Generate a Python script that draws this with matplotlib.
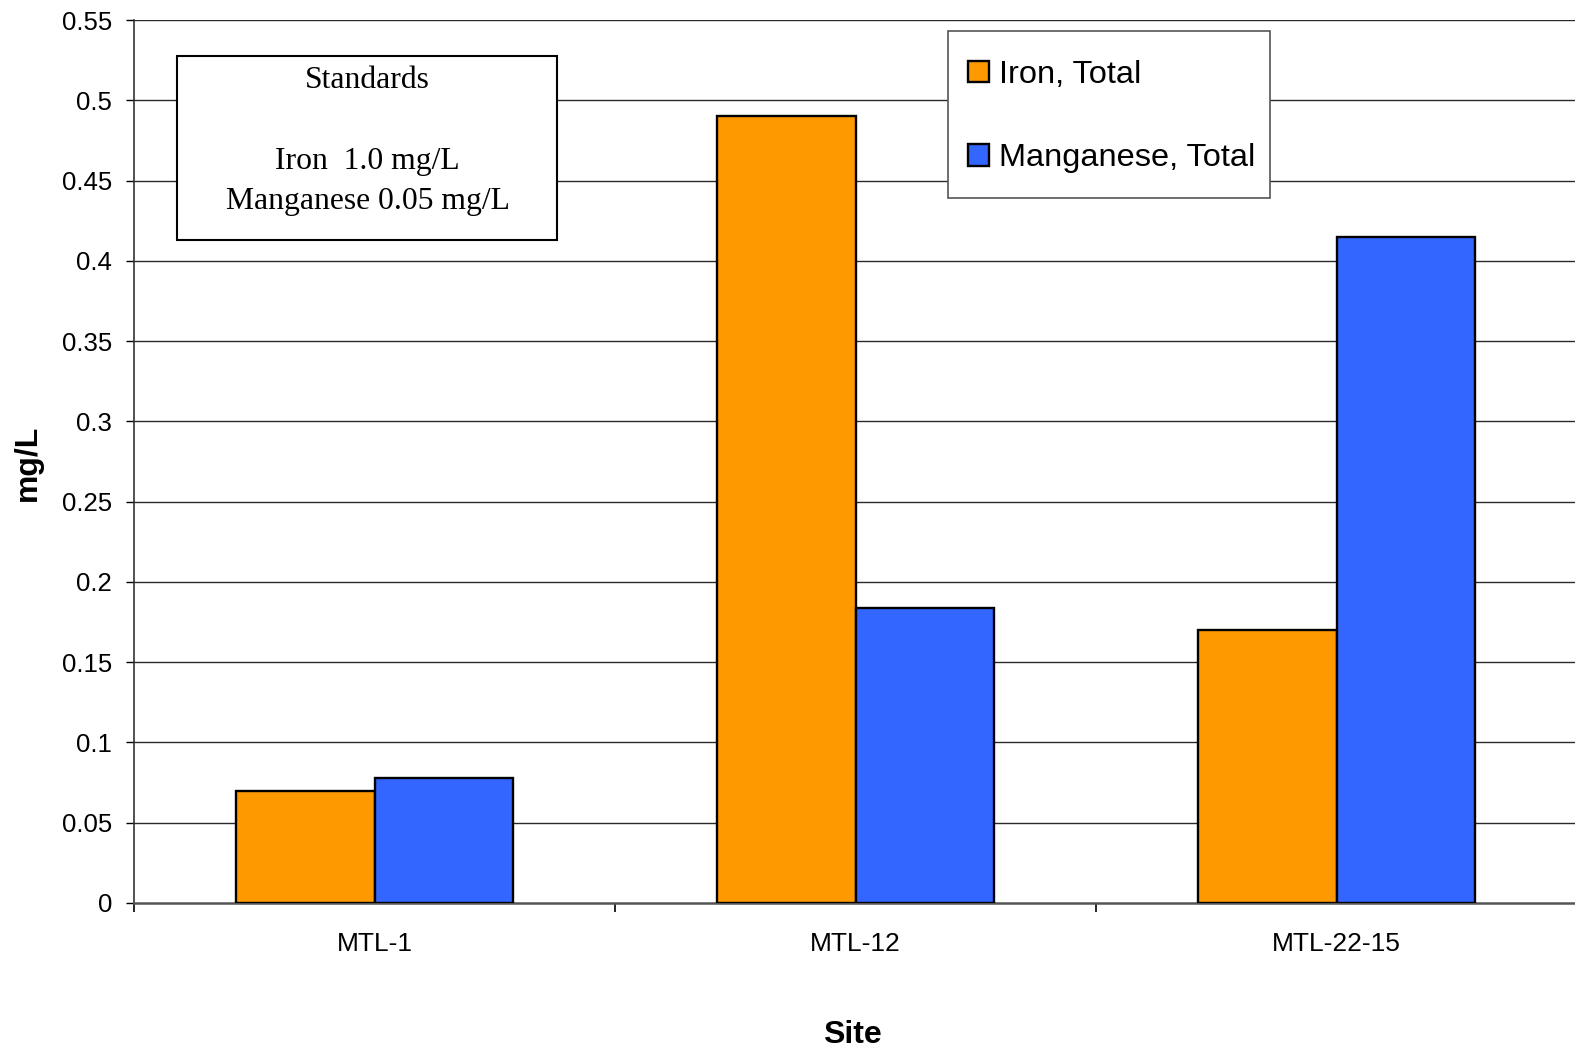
import numpy as np
import matplotlib
matplotlib.use("Agg")
import matplotlib.pyplot as plt
from matplotlib.patches import Rectangle

# Data per site (mg/L)
sites = ["MTL-1", "MTL-12", "MTL-22-15"]
iron_total = [0.07, 0.49, 0.17]
manganese_total = [0.078, 0.184, 0.415]
yticks = [0, 0.05, 0.1, 0.15, 0.2, 0.25, 0.3, 0.35, 0.4, 0.45, 0.5, 0.55]
ytick_labels = ["0", "0.05", "0.1", "0.15", "0.2", "0.25", "0.3", "0.35", "0.4", "0.45", "0.5", "0.55"]

plt.rcParams["font.family"] = ["Liberation Sans", "DejaVu Sans"]

W, H = 1575, 1054
fig = plt.figure(figsize=(W / 100, H / 100), dpi=100)
ax = fig.add_axes([0.0853, 0.1433, 0.916, 0.8377])

x = np.arange(len(sites))
w = 0.288
b1 = ax.bar(x - w / 2, iron_total, w, color="#FF9900", edgecolor="black",
            linewidth=1.7, label="Iron, Total", zorder=3)
b2 = ax.bar(x + w / 2, manganese_total, w, color="#3366FF", edgecolor="black",
            linewidth=1.7, label="Manganese, Total", zorder=3)

ax.set_xlim(-0.5, len(sites) - 0.5)
ax.set_ylim(0, 0.55)

# horizontal gridlines
for yv in yticks[1:]:
    ax.axhline(yv, color="#2a2a2a", linewidth=1.0, zorder=1)

ax.set_yticks(yticks)
ax.set_yticklabels(ytick_labels, fontsize=18.5)
ax.tick_params(axis="y", direction="out", length=6, width=1, pad=10)

# site labels at centres, ticks at category boundaries
ax.set_xticks(x)
ax.set_xticklabels(sites, fontsize=19)
ax.tick_params(axis="x", which="major", length=0, pad=21)
ax.set_xticks(np.arange(len(sites) + 1) - 0.5, minor=True)
ax.tick_params(axis="x", which="minor", direction="out", length=6.5, width=1.2)

for s in ["top", "right"]:
    ax.spines[s].set_visible(False)
ax.spines["left"].set_color("#333333")
ax.spines["left"].set_linewidth(1.2)
ax.spines["bottom"].set_color("#555555")
ax.spines["bottom"].set_linewidth(1.8)

fig.text(28 / W, 0.5605, "mg/L", rotation=90, fontsize=23, fontweight="bold",
         ha="center", va="center")
fig.text(0.5413, 1 - 1034.6 / H, "Site", fontsize=23, fontweight="bold",
         ha="center", va="center")

# standards box
box = Rectangle((176.7 / W, 1 - 240 / H), (556.7 - 176.7) / W, (240 - 55.7) / H,
                transform=fig.transFigure, facecolor="white",
                edgecolor="black", linewidth=1.5, zorder=5, clip_on=False)
ax.add_patch(box)
serif = ["Liberation Serif", "DejaVu Serif"]
cx = 367.6 / W
for txt, py in [("Standards", 80), ("Iron  1.0 mg/L", 161.5),
                ("Manganese 0.05 mg/L", 201.5)]:
    fig.text(cx, 1 - py / H, txt, family=serif, fontsize=22.8,
             ha="center", va="center", zorder=6)

# legend box
lbox = Rectangle((948.3 / W, 1 - 198.3 / H), (1270 - 948.3) / W, (198.3 - 30.7) / H,
                 transform=fig.transFigure, facecolor="white",
                 edgecolor="#555555", linewidth=1.2, zorder=5, clip_on=False)
ax.add_patch(lbox)
leg = ax.legend(handles=[b1, b2], loc="center left",
                bbox_to_anchor=(968.3 / W, 1 - 116.7 / H),
                bbox_transform=fig.transFigure, fontsize=23.4, frameon=False,
                handlelength=0.65, handleheight=0.65,
                handletextpad=0.28, labelspacing=1.64, borderpad=0,
                borderaxespad=0)
leg.set_zorder(6)

fig.savefig("out.png", dpi=100)
